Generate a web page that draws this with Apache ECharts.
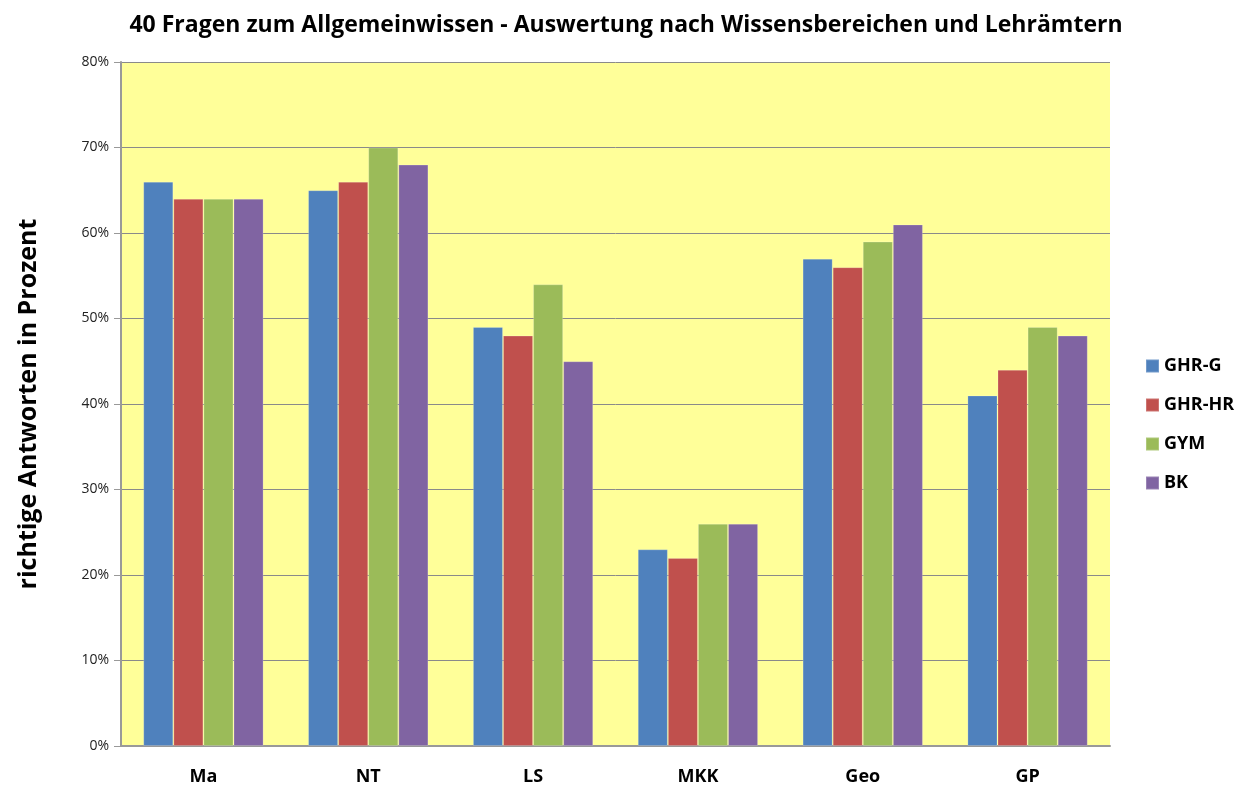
<!DOCTYPE html>
<html><head><meta charset="utf-8">
<script src="https://cdn.jsdelivr.net/npm/echarts@6/dist/echarts.min.js"></script>
<style>html,body{margin:0;padding:0;background:#fff}#c{width:1254px;height:797px}</style>
</head><body><div id="c"></div>
<script>
const categories = ['Ma','NT','LS','MKK','Geo','GP'];
const seriesNames = ['GHR-G','GHR-HR','GYM','BK'];
const ghrG  = [66,65,49,23,57,41];
const ghrHR = [64,66,48,22,56,44];
const gym   = [64,70,54,26,59,49];
const bk    = [64,68,45,26,61,48];
const colors = ['#4F81BD','#C0504D','#9BBB59','#8064A2'];
const values = [ghrG, ghrHR, gym, bk];

const chart = echarts.init(document.getElementById('c'));
const font = '"Open Sans", "DejaVu Sans", sans-serif';
chart.setOption({
  animation:false,
  title:{text:'40 Fragen zum Allgemeinwissen - Auswertung nach Wissensbereichen und Lehrämtern',
    left:621, top:9, textAlign:'center',
    textStyle:{fontFamily:font, fontWeight:'bold', fontSize:23, color:'#000'}},
  legend:{orient:'vertical', left:1140, top:352, itemWidth:13, itemHeight:13, itemGap:21,
    icon:'rect',
    textStyle:{fontFamily:font, fontWeight:'bold', fontSize:18, color:'#000'},
    data:seriesNames},
  grid:{left:121, right:144, top:62, bottom:51, backgroundColor:'#FFFF99', show:true, borderWidth:0},
  xAxis:{type:'category', data:categories,
    axisLine:{lineStyle:{color:'#999', width:2}}, axisTick:{show:false},
    axisLabel:{fontFamily:font, fontWeight:'bold', fontSize:18, color:'#000', margin:22}},
  yAxis:{type:'value', min:0, max:80, interval:10,
    name:'richtige Antworten in Prozent', nameLocation:'middle', nameGap:80,
    nameTextStyle:{fontFamily:font, fontWeight:'bold', fontSize:25, color:'#000'},
    axisLine:{show:true, lineStyle:{color:'#999', width:2}},
    axisTick:{show:true, length:7, lineStyle:{color:'#999'}},
    axisLabel:{formatter:'{value}%', fontFamily:font, fontSize:14, color:'#222', margin:12},
    splitLine:{lineStyle:{color:'#8a8a8a', width:1}}},
  series: seriesNames.map((n,i)=>({name:n, type:'bar', data:values[i],
    barGap:'0%', barCategoryGap:'27%',
    itemStyle:{color:colors[i], borderColor:'rgba(255,255,255,0.2)', borderWidth:1}}))
});
</script></body></html>
